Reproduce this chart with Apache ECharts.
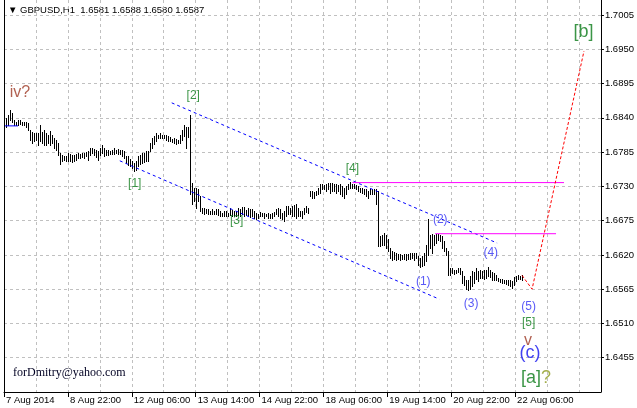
<!DOCTYPE html>
<html><head><meta charset="utf-8">
<script src="https://cdn.jsdelivr.net/npm/echarts@6/dist/echarts.min.js"></script>
<style>html,body{margin:0;padding:0;background:#fff}#c{width:637px;height:408px}</style>
</head><body><div id="c"></div>
<script>
// ---- data ----
const chartTitle = '\u25BC GBPUSD,H1  1.6581 1.6588 1.6580 1.6587';
const footerText = 'forDmitry@yahoo.com';
const tickLabels = ['7 Aug 2014','8 Aug 22:00','12 Aug 06:00','13 Aug 14:00','14 Aug 22:00','18 Aug 06:00','19 Aug 14:00','20 Aug 22:00','22 Aug 06:00'];
const priceTicks = [1.6455,1.6510,1.6565,1.6620,1.6675,1.6730,1.6785,1.6840,1.6895,1.6950,1.7005];
const highs = [
1.6841,1.6839,1.6844,1.6852,1.6848,1.6837,1.6834,1.6836,1.6836,1.6833,
1.6833,1.6833,1.6832,1.6820,1.6817,1.6816,1.6816,1.6816,1.6829,1.6817,
1.6820,1.6816,1.6813,1.6818,1.6813,1.6807,1.6804,1.6800,1.6784,1.6781,
1.6778,1.6778,1.6784,1.6782,1.6781,1.6780,1.6782,1.6784,1.6782,1.6784,
1.6784,1.6785,1.6786,1.6791,1.6792,1.6790,1.6788,1.6786,1.6791,1.6796,
1.6791,1.6789,1.6788,1.6786,1.6788,1.6791,1.6789,1.6790,1.6789,1.6788,
1.6786,1.6778,
1.6778,1.6774,1.6770,1.6767,1.6771,1.6778,1.6781,1.6784,1.6784,1.6786,
1.6786,1.6800,1.6807,1.6810,1.6816,1.6813,1.6815,1.6813,1.6813,1.6813,
1.6810,1.6809,1.6806,1.6807,1.6806,1.6805,1.6813,1.6821,1.6828,1.6826,
1.6826,1.6845,1.6735,1.6727,1.6728,1.6726,1.6714,1.6696,1.6695,1.6693,
1.6693,1.6691,1.6693,1.6691,1.6693,1.6693,1.6690,1.6688,1.6690,1.6690,
1.6688,1.6696,1.6692,1.6690,1.6691,1.6696,1.6693,1.6697,1.6697,1.6692,
1.6695,1.6693,
1.6693,1.6691,1.6687,1.6686,1.6689,1.6687,1.6687,1.6686,1.6687,1.6686,
1.6687,1.6689,1.6693,1.6695,1.6694,1.6687,1.6690,1.6698,1.6698,1.6695,
1.6698,1.6700,1.6701,1.6695,1.6690,1.6690,1.6695,1.6698,1.6696,1.6723,
1.6722,1.6721,1.6723,1.6727,1.6733,1.6734,1.6732,1.6733,1.6735,1.6735,
1.6735,1.6733,1.6733,1.6732,1.6734,1.6730,1.6727,1.6730,1.6734,1.6737,
1.6734,1.6733,1.6732,1.6730,1.6728,1.6727,1.6725,1.6725,1.6723,1.6725,
1.6725,1.6725,1.6725,1.6722,1.6650,1.6652,1.6655,1.6652,
1.6645,1.6631,1.6626,1.6625,1.6623,1.6621,1.6621,1.6620,1.6621,1.6621,
1.6621,1.6623,1.6623,1.6623,1.6623,1.6618,1.6615,1.6618,1.6623,1.6636,
1.6677,1.6652,1.6653,1.6652,1.6653,1.6653,1.6652,1.6650,1.6642,1.6631,
1.6626,1.6599,1.6599,1.6596,1.6596,1.6599,1.6599,1.6594,1.6586,1.6580,
1.6579,1.6586,1.6594,1.6593,1.6599,1.6594,1.6596,1.6594,1.6596,1.6595,
1.6600,1.6596,1.6593,1.6591,1.6588,1.6583,1.6582,1.6582,1.6580,1.6580,
1.6579,1.6579,1.6578,1.6584,1.6586,1.6588,1.6586,1.6588
];
const lows = [
1.6823,1.6826,1.6829,1.6837,1.6834,1.6829,1.6828,1.6829,1.6830,1.6828,
1.6828,1.6826,1.6820,1.6804,1.6800,1.6802,1.6804,1.6797,1.6802,1.6800,
1.6797,1.6796,1.6800,1.6797,1.6799,1.6791,1.6788,1.6781,1.6766,1.6770,
1.6773,1.6771,1.6770,1.6771,1.6769,1.6770,1.6773,1.6776,1.6775,1.6777,
1.6775,1.6778,1.6773,1.6780,1.6784,1.6781,1.6777,1.6773,1.6781,1.6784,
1.6778,1.6781,1.6780,1.6782,1.6782,1.6782,1.6784,1.6782,1.6782,1.6778,
1.6776,1.6767,
1.6765,1.6762,1.6759,1.6754,1.6757,1.6762,1.6766,1.6767,1.6769,1.6770,
1.6771,1.6786,1.6791,1.6798,1.6802,1.6807,1.6808,1.6807,1.6807,1.6805,
1.6803,1.6802,1.6801,1.6800,1.6798,1.6800,1.6800,1.6805,1.6810,1.6791,
1.6809,1.6717,1.6701,1.6706,1.6695,1.6706,1.6690,1.6687,1.6685,1.6687,
1.6685,1.6686,1.6685,1.6686,1.6685,1.6684,1.6683,1.6682,1.6683,1.6682,
1.6683,1.6684,1.6683,1.6682,1.6683,1.6684,1.6683,1.6685,1.6683,1.6684,
1.6682,1.6681,
1.6682,1.6680,1.6677,1.6679,1.6682,1.6682,1.6680,1.6682,1.6680,1.6680,
1.6680,1.6683,1.6685,1.6682,1.6679,1.6678,1.6675,1.6682,1.6685,1.6685,
1.6682,1.6683,1.6680,1.6682,1.6682,1.6679,1.6685,1.6689,1.6687,1.6714,
1.6712,1.6712,1.6716,1.6717,1.6719,1.6725,1.6725,1.6723,1.6726,1.6719,
1.6723,1.6722,1.6719,1.6722,1.6717,1.6714,1.6711,1.6717,1.6726,1.6728,
1.6727,1.6727,1.6726,1.6723,1.6721,1.6719,1.6717,1.6714,1.6712,1.6717,
1.6717,1.6717,1.6701,1.6634,1.6634,1.6636,1.6636,1.6631,
1.6626,1.6615,1.6612,1.6614,1.6612,1.6614,1.6612,1.6614,1.6614,1.6612,
1.6614,1.6614,1.6615,1.6612,1.6615,1.6604,1.6600,1.6602,1.6604,1.6610,
1.6620,1.6631,1.6623,1.6636,1.6639,1.6644,1.6642,1.6631,1.6626,1.6620,
1.6588,1.6588,1.6591,1.6589,1.6591,1.6592,1.6589,1.6575,1.6572,1.6566,
1.6563,1.6566,1.6570,1.6575,1.6582,1.6578,1.6583,1.6583,1.6582,1.6583,
1.6586,1.6584,1.6580,1.6580,1.6579,1.6578,1.6577,1.6575,1.6575,1.6574,
1.6572,1.6570,1.6567,1.6572,1.6578,1.6581,1.6581,1.6580
];
// wave annotations (bar index, price)
const waveText = ['iv?','[1]','[2]','[3]','[4]','(1)','(2)','(3)','(4)','(5)','[5]','v','(c)','[a]?','[b]'];
const waveX = [7.5, 65, 94.3, 116, 174, 209.5, 218, 233.5, 243.3, 262.3, 262.3, 262, 263, 266, 289.8];
const waveY = [1.6880, 1.6734, 1.6876, 1.6675, 1.6759, 1.6577, 1.6677, 1.6542, 1.6623, 1.6537, 1.6511, 1.6482, 1.6462, 1.6423, 1.6977];
// trend lines
const upperChannel = [[83.5, 1.6864], [246.5, 1.6639]];
const lowerChannel = [[57.5, 1.6771], [217.5, 1.6549]];
const level4 = [[174, 1.6736], [280, 1.6736]];
const level2 = [[215.5, 1.6654], [276, 1.6654]];
const leftLevel = [[0, 1.6827], [6.5, 1.6827]];
const projection = [[259, 1.6587], [264, 1.6565], [290, 1.6947]];

// ---- styles ----
const waveKind = ['brown','green','green','green','green','blue','blue','blue','blue','blue','green','brown','blueBig','greenBig','greenBig'];
const kindStyle = {
  brown:{color:'#9E3A26',fontSize:16}, green:{color:'#0A7A18',fontSize:12},
  blue:{color:'#2E2EF5',fontSize:12}, blueBig:{color:'#1212EE',fontSize:18},
  greenBig:{color:'#0A7A18',fontSize:18}
};
const FONT = 'Liberation Sans, Arial, sans-serif';
const XMIN = -0.5, XMAX = 298.5, YMIN = 1.6400, YMAX = 1.7029;
const gridPositions = []; for (let v = XMIN; v <= XMAX; v += 16) gridPositions.push(v);
const labelPositions = tickLabels.map((_, k) => 32 * k + XMIN);

const chart = echarts.init(document.getElementById('c'), null, {renderer:'canvas'});
function lineSeries(pts, color, dash){
  return {type:'line', data:pts, xAxisIndex:0, yAxisIndex:0, showSymbol:false, symbol:'none', silent:true,
    lineStyle:{color:color, width:1, type:dash}, z:5, animation:false};
}
const waveSpecial = waveText.map((t,i)=>{
  const st = kindStyle[waveKind[i]];
  const item = {value:[waveX[i], waveY[i]], name:t,
    label:{color:st.color, fontSize:st.fontSize}};
  if (t === '[a]?') {
    item.label.formatter = '{g|[a]}{o|?}';
    item.label.rich = {g:{color:st.color,fontSize:st.fontSize,fontFamily:FONT}, o:{color:'#8C9A1E',fontSize:st.fontSize,fontFamily:FONT}};
  }
  return item;
});

chart.setOption({
  animation:false,
  backgroundColor:'#ffffff',
  grid:{left:4, right:35, top:0, bottom:16, containLabel:false},
  xAxis:[
    {type:'value', min:XMIN, max:XMAX, interval:16, position:'bottom',
     axisLine:{show:true, onZero:false, lineStyle:{color:'#000'}},
     axisTick:{show:false, customValues:gridPositions}, axisLabel:{show:false},
     splitLine:{show:true, lineStyle:{type:[3,3], color:'#c0c0c0'}}},
    {type:'value', min:XMIN, max:XMAX, position:'bottom',
     axisLine:{show:false, onZero:false},
     axisTick:{show:true, length:5, customValues:labelPositions, lineStyle:{color:'#000'}},
     axisLabel:{show:true, customValues:labelPositions, margin:3, align:'left', padding:[0,0,0,2],
       fontFamily:FONT, fontSize:9.5, color:'#000',
       formatter:v=>tickLabels[Math.round((v - XMIN)/32)] || ''},
     splitLine:{show:false}}
  ],
  yAxis:[
    {type:'value', min:YMIN, max:YMAX, position:'right',
     axisLine:{show:true, onZero:false, lineStyle:{color:'#000'}},
     axisTick:{show:true, length:3, customValues:priceTicks, lineStyle:{color:'#000'}},
     axisLabel:{show:true, customValues:priceTicks, margin:4, fontFamily:FONT, fontSize:9.5, color:'#000',
       formatter:v=>v.toFixed(4)},
     splitLine:{show:true, lineStyle:{type:[3,3], color:'#c0c0c0'}}},
    {type:'value', min:YMIN, max:YMAX, position:'left',
     axisLine:{show:true, onZero:false, lineStyle:{color:'#000'}},
     axisTick:{show:false}, axisLabel:{show:false}, splitLine:{show:false}}
  ],
  series:[
    {type:'custom', xAxisIndex:0, yAxisIndex:0, z:3,
     data: highs.map((h,i)=>[i, h, lows[i]]),
     encode:{x:0, y:[1,2]},
     renderItem:(params, api)=>{
       const x = api.value(0);
       const p1 = api.coord([x, api.value(1)]);
       const p2 = api.coord([x, api.value(2)]);
       const px = Math.floor(p1[0]) + 0.5;
       return {type:'line', shape:{x1:px, y1:Math.round(p1[1]), x2:px, y2:Math.round(p2[1]) + 1},
         style:{stroke:'#000', lineWidth:1}};
     }},
    lineSeries(upperChannel, '#0000ff', [3,3]),
    lineSeries(lowerChannel, '#0000ff', [3,3]),
    lineSeries(level4, '#ff00ff', 'solid'),
    lineSeries(level2, '#ff00ff', 'solid'),
    lineSeries(leftLevel, '#0000ff', 'solid'),
    lineSeries(projection, '#ff0000', [3,2]),
    {type:'scatter', xAxisIndex:0, yAxisIndex:0, symbolSize:0, silent:true, z:6,
     data: waveSpecial,
     label:{show:true, position:'inside', fontFamily:FONT, formatter:p=>p.name}}
  ],
  graphic:[
    {type:'text', left:8, top:5, style:{text:chartTitle, font:'9.5px '+FONT, fill:'#000'}},
    {type:'text', left:13, top:367, style:{text:footerText, font:'12px "Liberation Serif", "Times New Roman", serif', fill:'#000022'}}
  ]
});
</script></body></html>
